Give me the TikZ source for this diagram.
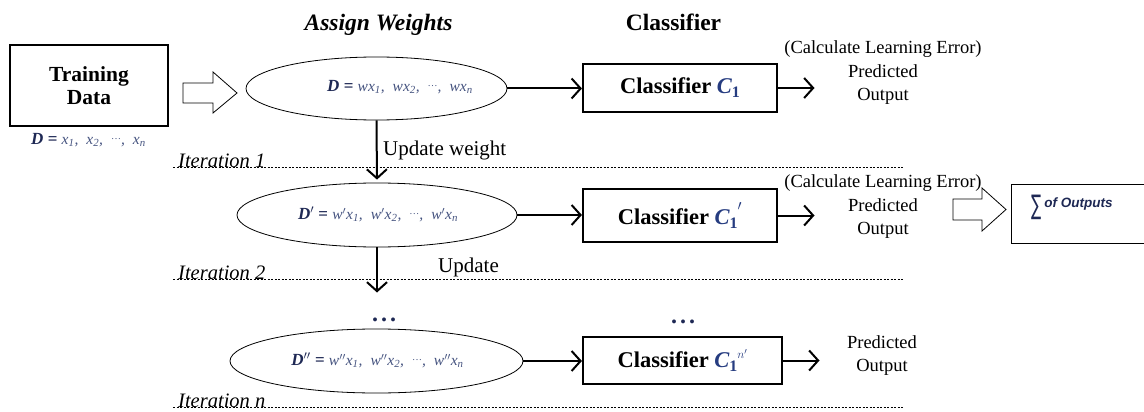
\documentclass[tikz,border=0pt]{standalone}
\usepackage{fontspec}
\usepackage{graphicx}
\setmainfont{Liberation Serif}
\setsansfont{Liberation Sans}
\newfontfamily\symfont{DejaVu Sans}
\usetikzlibrary{shapes.geometric,arrows.meta}

\definecolor{eqnavy}{RGB}{30,40,84}
\definecolor{eqslate}{RGB}{70,84,128}
\definecolor{clsblue}{RGB}{38,60,128}

% pieces of the weighted data-set formulas
\newcommand{\eqD}[1]{{\color{eqnavy}\fontsize{17}{17}\selectfont\bfseries\itshape D#1}}
\newcommand{\eqeq}{{\color{eqnavy}\fontsize{17}{17}\selectfont\bfseries\ = }}
\newcommand{\eqdots}{\raisebox{0.3em}{\fontsize{10}{10}\selectfont\upshape …}}
\newcommand{\eqrest}[1]{{\color{eqslate}\fontsize{15.5}{15.5}\selectfont\itshape #1}}
\newcommand{\eqsep}{,\hspace{8pt}}
\newcommand{\xs}[1]{x\textsubscript{#1}}
% classifier symbol C_1 with an optional mark on top
\newcommand{\Cone}[1]{{\color{clsblue}\itshape C\raisebox{-4pt}{\upshape\fontsize{16}{16}\selectfont 1}#1}}

\begin{document}
\begin{tikzpicture}[x=1pt,y=-1pt,
  box/.style={draw, line width=1.1pt, inner sep=0pt, align=center},
  oval/.style={draw, ellipse, line width=0.8pt, inner sep=0pt},
  formula/.style={inner sep=0pt},
  flow/.style={line width=2pt, shorten >=0.5pt, -{Straight Barb[length=9pt,width=20pt,line width=2pt]}},
  hollow/.style={draw, line width=0.8pt, line join=miter},
  header/.style={font=\fontsize{23.5}{28}\selectfont\bfseries, anchor=base},
  boxtext/.style={font=\fontsize{22.5}{24}\selectfont\bfseries},
  outtext/.style={align=center, inner sep=0pt, font=\fontsize{18.5}{23.5}\selectfont},
  note/.style={font=\fontsize{21}{24}\selectfont, anchor=base west, inner sep=0pt},
  iter/.style={font=\fontsize{20.5}{24}\selectfont\itshape, anchor=base west, inner sep=0pt},
  sepline/.style={line width=0.6pt, dash pattern=on 2pt off 1.5pt},
  etc/.style={font=\fontsize{24}{24}\selectfont\bfseries, text=eqnavy, inner sep=0pt}
]
\useasboundingbox (0,0) rectangle (1144,412);

% column headers
\node[header, font=\fontsize{23.5}{28}\selectfont\bfseries\itshape] (hw) at (378.5,31) {Assign Weights};
\node[header] (hc) at (673.5,31) {Classifier};

% training data
\node[box, boxtext, font=\fontsize{21.5}{23}\selectfont\bfseries, minimum width=158, minimum height=81] (train) at (89,85.5) {Training\\Data};
\node[formula] (dtrain) at (88.5,140) {\eqD{}\eqeq\eqrest{\xs{1}\eqsep\xs{2}\eqsep\eqdots\eqsep\xs{n}}};
\draw[hollow] (183,83) -- (213,83) -- (213,72) -- (237,93) -- (213,113) -- (213,103) -- (183,103) -- cycle;

% weighted data sets
\node[oval, minimum width=261, minimum height=63] (e1) at (376.5,88.5) {};
\node[formula] (f1) at (400,87)
  {\eqD{}\eqeq\eqrest{w\xs{1}\eqsep w\xs{2}\eqsep\eqdots\eqsep w\xs{n}}};
\node[oval, minimum width=280, minimum height=64] (e2) at (377,215) {};
\node[formula] (f2) at (378,214)
  {\eqD{$'$}\eqeq\eqrest{w$'$\xs{1}\eqsep w$'$\xs{2}\eqsep\eqdots\eqsep w$'$\xs{n}}};
\node[etc] (dt1) at (384,320) {.\hspace{3pt}.\hspace{3pt}.};
\node[oval, minimum width=293, minimum height=64] (e3) at (376.5,361) {};
\node[formula] (f3) at (377.5,360)
  {\eqD{$''$}\eqeq\eqrest{w$''$\xs{1}\eqsep w$''$\xs{2}\eqsep\eqdots\eqsep w$''$\xs{n}}};

% classifiers
\node[box, boxtext, minimum width=194, minimum height=48] (c1) at (680,88) {Classifier \Cone{}};
\node[box, boxtext, minimum width=194, minimum height=53] (c2) at (680,215.5) {Classifier \Cone{\raisebox{6pt}{$'$}}};
\node[etc] (dt2) at (683,322) {.\hspace{3pt}.\hspace{3pt}.};
\node[box, boxtext, minimum width=199, minimum height=47] (c3) at (682.5,360.5)
  {Classifier \Cone{\raisebox{9pt}{\fontsize{13}{13}\selectfont $n'$}}};

% outputs
\node[outtext] (o1) at (883,73) {(Calculate Learning Error)\\Predicted\\Output};
\node[outtext] (o2) at (883,207) {(Calculate Learning Error)\\Predicted\\Output};
\node[outtext] (o3) at (882,355.5) {Predicted\\Output};

% combined result
\draw[hollow] (953,199) -- (982,199) -- (982,188) -- (1006,209.5) -- (982,231) -- (982,220) -- (953,220) -- cycle;
\node[box, minimum width=140, minimum height=59, anchor=north west] (sum) at (1011,184) {};
\node[inner sep=0pt, anchor=west] (sumtext) at (1031,207)
  {\raisebox{-4pt}{\scalebox{0.75}[1.35]{\symfont\color{eqnavy}\fontsize{20}{20}\selectfont ∑}}\hspace{3pt}\raisebox{3pt}{\sffamily\bfseries\itshape\color{eqnavy}\fontsize{13.5}{13.5}\selectfont of Outputs}};

% connectors
\coordinate (t1) at (815,88);
\coordinate (t2) at (815,215.5);
\coordinate (t3) at (820,360.5);
\coordinate (v2) at (377,293);
\draw[flow] (e1.east) -- (e1.east -| c1.west);
\draw[flow] (c1.east) -- (t1);
\draw[flow] (e2.east) -- (e2.east -| c2.west);
\draw[flow] (c2.east) -- (t2);
\draw[flow] (e3.east) -- (e3.east -| c3.west);
\draw[flow] (c3.east) -- (t3);
\draw[flow, shorten >=3pt] (e1.south) -- (e2.north);
\draw[flow] (e2.south) -- (v2);

% update notes
\node[note] (u1) at (383,155) {Update weight};
\node[note] (u2) at (438,272) {Update};

% iteration separators
\node[iter] (i1) at (178,167) {Iteration 1};
\node[iter] (i2) at (178,279) {Iteration 2};
\node[iter] (i3) at (178,407) {Iteration n};
\coordinate (s1a) at (173,167); \coordinate (s1b) at (903,167);
\coordinate (s2a) at (173,279); \coordinate (s2b) at (903,279);
\coordinate (s3a) at (173,407); \coordinate (s3b) at (903,407);
\draw[sepline] (s1a) -- (s1b);
\draw[sepline] (s2a) -- (s2b);
\draw[sepline] (s3a) -- (s3b);
\end{tikzpicture}
\end{document}
